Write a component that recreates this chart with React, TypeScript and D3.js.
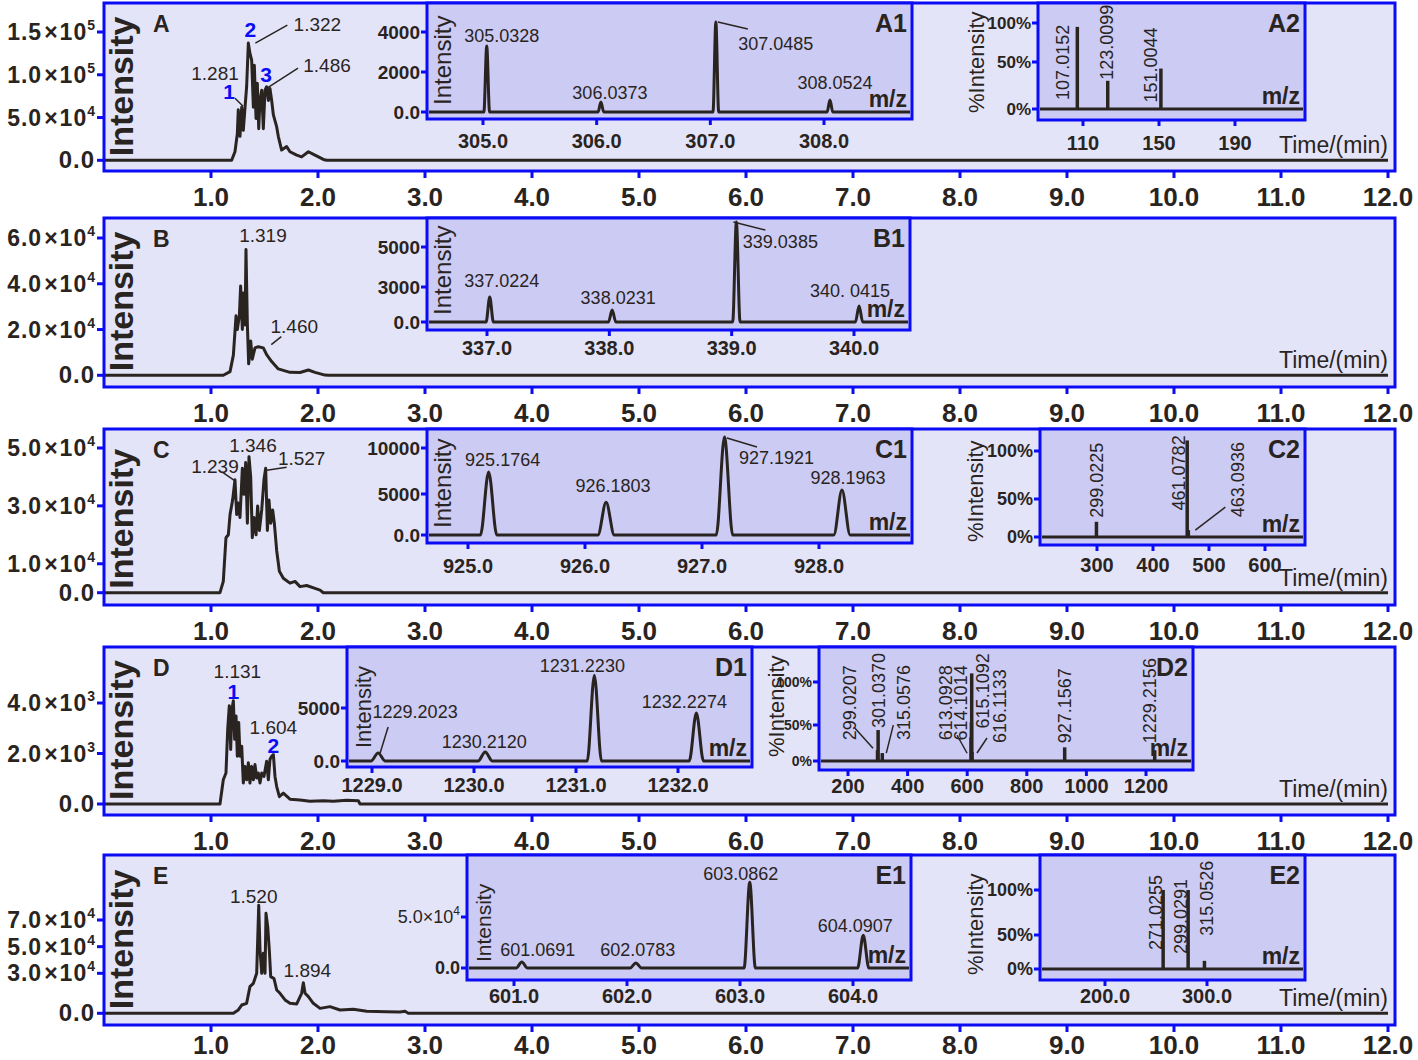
import React from "react";
import * as d3 from "d3";

type Pt = [number, number];

const INK = "#2a2421";
const BLUE = "#0b0bf5";
const PANEL_FILL = "#e4e4f9";
const INSET_FILL = "#cbcbf4";
const SANS = "'Liberation Sans', Arial, 'DejaVu Sans', sans-serif";

// ---------- main chromatograms (time in min, intensity) ----------
const timeTicks = [1, 2, 3, 4, 5, 6, 7, 8, 9, 10, 11, 12];

const traceA: Pt[] = [
  [0, 0], [1.193, 0], [1.224, 10000], [1.246, 31000], [1.255, 59000], [1.271, 28000], [1.287, 62000],
  [1.302, 35000], [1.318, 62000], [1.333, 86000], [1.349, 137000], [1.364, 125000], [1.38, 117000],
  [1.396, 62000], [1.405, 111000], [1.421, 49000], [1.433, 90000], [1.446, 37000], [1.458, 70000],
  [1.474, 82000], [1.489, 37000], [1.505, 82000], [1.52, 86000], [1.536, 70000], [1.551, 84000],
  [1.567, 70000], [1.583, 53000], [1.614, 39000], [1.629, 28000], [1.66, 12000], [1.707, 16000],
  [1.738, 10000], [1.801, 6000], [1.847, 4000], [1.91, 10000], [1.972, 6000], [2.05, 1000], [2.081, 0], [12, 0],
];
const traceB: Pt[] = [
  [0, 0], [1.115, 0], [1.178, 1600], [1.209, 8800], [1.234, 26000], [1.246, 20000], [1.265, 26000],
  [1.277, 39000], [1.293, 20000], [1.302, 36000], [1.318, 22000], [1.327, 55000], [1.34, 22000],
  [1.352, 5000], [1.371, 15000], [1.386, 7000], [1.411, 12000], [1.442, 12500], [1.489, 12000],
  [1.52, 9000], [1.567, 6000], [1.629, 2800], [1.738, 1300], [1.832, 1200], [1.91, 2300], [1.972, 1300],
  [2.065, 100], [2.097, 0], [12, 0],
];
const traceC: Pt[] = [
  [0, 0], [1.084, 0], [1.115, 3900], [1.14, 19000], [1.162, 20000], [1.178, 27000], [1.202, 32000],
  [1.224, 39000], [1.24, 27000], [1.255, 31000], [1.271, 26000], [1.293, 43000], [1.308, 34000],
  [1.324, 45000], [1.34, 24000], [1.355, 47000], [1.371, 40000], [1.386, 19000], [1.402, 26000],
  [1.421, 20000], [1.436, 30000], [1.452, 21500], [1.474, 28600], [1.495, 39000], [1.511, 43000],
  [1.527, 21500], [1.542, 32000], [1.558, 24000], [1.576, 28600], [1.592, 24000], [1.614, 14500],
  [1.639, 7400], [1.676, 5000], [1.738, 3300], [1.785, 3900], [1.832, 2100], [1.894, 2500], [1.972, 1500],
  [2.019, 900], [2.05, 0], [12, 0],
];
const traceD: Pt[] = [
  [0, 0], [1.084, 0], [1.115, 960], [1.14, 1230], [1.156, 2960], [1.171, 3890], [1.184, 2160],
  [1.196, 3760], [1.209, 4090], [1.221, 2560], [1.234, 3490], [1.246, 1890], [1.259, 3230], [1.271, 1890],
  [1.287, 2290], [1.302, 830], [1.318, 1490], [1.333, 960], [1.349, 1630], [1.364, 830], [1.38, 1490],
  [1.396, 960], [1.411, 1560], [1.427, 1030], [1.442, 1230], [1.458, 830], [1.474, 1230], [1.495, 1090],
  [1.52, 1690], [1.536, 960], [1.551, 1760], [1.567, 1890], [1.583, 1960], [1.598, 1090], [1.614, 690],
  [1.639, 290], [1.676, 430], [1.738, 190], [1.832, 160], [1.925, 110], [2.05, 130], [2.143, 110],
  [2.268, 150], [2.377, 130], [2.393, 0], [12, 0],
];
const traceE: Pt[] = [
  [0, 0], [1.209, 0], [1.255, 2500], [1.287, 6200], [1.333, 7500], [1.364, 20000], [1.396, 22500],
  [1.427, 30000], [1.446, 81000], [1.458, 47500], [1.474, 30000], [1.489, 45000], [1.505, 30000],
  [1.514, 75000], [1.53, 65000], [1.545, 47500], [1.558, 27500], [1.589, 26000], [1.614, 17500],
  [1.645, 15000], [1.692, 10000], [1.738, 7500], [1.801, 7000], [1.847, 15000], [1.863, 23000],
  [1.879, 15000], [1.91, 12500], [1.956, 7500], [2.019, 3700], [2.112, 5000], [2.206, 2500], [2.33, 3000],
  [2.455, 1500], [2.642, 1200], [2.766, 1000], [2.813, 1500], [2.844, 0], [12, 0],
];

const yTicksA = [0, 50000, 100000, 150000];
const yTicksB = [0, 20000, 40000, 60000];
const yTicksC = [0, 10000, 30000, 50000];
const yTicksD = [0, 2000, 4000];
const yTicksE = [0, 30000, 50000, 70000];

// ---------- inset spectra ----------
const a1Mz = [305.0328, 306.0373, 307.0485, 308.0524];
const a1Int = [3300, 500, 4500, 600];
const a1Text = ["305.0328", "306.0373", "307.0485", "308.0524"];
const a1XTicks = [305, 306, 307, 308];
const a1YTicks = [0, 2000, 4000];
const a1YText = ["0.0", "2000", "4000"];

const b1Mz = [337.0224, 338.0231, 339.0385, 340.0415];
const b1Int = [2140, 1030, 6250, 1370];
const b1Text = ["337.0224", "338.0231", "339.0385", "340. 0415"];
const b1XTicks = [337, 338, 339, 340];
const b1YTicks = [0, 3000, 5000];
const b1YText = ["0.0", "3000", "5000"];

const c1Mz = [925.1764, 926.1803, 927.1921, 928.1963];
const c1Int = [7400, 4000, 11200, 5430];
const c1Text = ["925.1764", "926.1803", "927.1921", "928.1963"];
const c1XTicks = [925, 926, 927, 928];
const c1YTicks = [0, 5000, 10000];
const c1YText = ["0.0", "5000", "10000"];

const d1Mz = [1229.06, 1230.11, 1231.18, 1232.18];
const d1Int = [750, 850, 8100, 4530];
const d1Text = ["1229.2023", "1230.2120", "1231.2230", "1232.2274"];
const d1XTicks = [1229, 1230, 1231, 1232];
const d1YTicks = [0, 5000];
const d1YText = ["0.0", "5000"];

const e1Mz = [601.0691, 602.0783, 603.0862, 604.0907];
const e1Int = [6000, 5000, 84000, 32000];
const e1Text = ["601.0691", "602.0783", "603.0862", "604.0907"];
const e1XTicks = [601, 602, 603, 604];
const e1YTicks = [0, 50000];
const e1YText = ["0.0", "5.0×10^4"];

const pctTicks = [0, 50, 100];
const pctText = ["0%", "50%", "100%"];

const a2Mz = [107.0152, 123.0099, 151.0044];
const a2Int = [95, 30, 43];
const a2Text = ["107.0152", "123.0099", "151.0044"];
const a2XTicks = [110, 150, 190];

const c2Mz = [299.0225, 461.0782, 463.0936];
const c2Int = [20, 111, 9];
const c2Text = ["299.0225", "461.0782", "463.0936"];
const c2XTicks = [300, 400, 500, 600];

const d2Mz = [299.0207, 301.037, 315.0576, 613.0928, 614.1014, 615.1092, 616.1133, 927.1567, 1229.2156];
const d2Int = [15, 43, 11, 33, 53, 110, 12.5, 19, 15];
const d2Text = ["299.0207", "301.0370", "315.0576", "613.0928", "614.1014", "615.1092", "616.1133", "927.1567", "1229.2156"];
const d2XTicks = [200, 400, 600, 800, 1000, 1200];

// stick positions as they sit on the drawn E2 axis
const e2Mz = [257, 281.5, 297.5];
const e2Int = [100, 100, 12];
const e2Text = ["271.0255", "299.0291", "315.0526"];
const e2XTicks = [200, 300];

// ---------- layout ----------
type Ann = { at: Pt; text: string; dx: number; dy: number; blue?: boolean; leader?: number[] };
type Main = { id: string; top: number; bottom: number; base: number; yTop: number; yMax: number; yTicks: number[]; trace: Pt[]; ann: Ann[] };

const mains: Main[] = [
  {
    id: "A", top: 3, bottom: 171, base: 160.3, yTop: 32, yMax: 150000, yTicks: yTicksA, trace: traceA,
    ann: [
      { at: [1.318, 62000], text: "1.281", dx: -30, dy: -27 },
      { at: [1.318, 62000], text: "1", dx: -16, dy: -8, blue: true, leader: [-10, -9, -2, -1] },
      { at: [1.349, 137000], text: "1.322", dx: 69, dy: -12 },
      { at: [1.349, 137000], text: "2", dx: 2, dy: -6, blue: true, leader: [7, 0, 39, -18] },
      { at: [1.505, 82000], text: "1.486", dx: 62, dy: -18 },
      { at: [1.505, 82000], text: "3", dx: 1, dy: -8, blue: true, leader: [2, -2, 33, -22] },
    ],
  },
  {
    id: "B", top: 218, bottom: 387, base: 375.3, yTop: 238, yMax: 60000, yTicks: yTicksB, trace: traceB,
    ann: [
      { at: [1.327, 55000], text: "1.319", dx: 17, dy: -7 },
      { at: [1.442, 12500], text: "1.460", dx: 36, dy: -14, leader: [13, -2, 23, -10] },
    ],
  },
  {
    id: "C", top: 429, bottom: 605, base: 592.7, yTop: 448, yMax: 50000, yTicks: yTicksC, trace: traceC,
    ann: [
      { at: [1.224, 39000], text: "1.239", dx: -20, dy: -7, leader: [-13, -8, 0, 1] },
      { at: [1.355, 47000], text: "1.346", dx: 4, dy: -5 },
      { at: [1.511, 43000], text: "1.527", dx: 36, dy: -3, leader: [1, 2, 21, -1] },
    ],
  },
  {
    id: "D", top: 647, bottom: 815, base: 804, yTop: 703, yMax: 4000, yTicks: yTicksD, trace: traceD,
    ann: [
      { at: [1.209, 4090], text: "1.131", dx: 4, dy: -23 },
      { at: [1.209, 4090], text: "1", dx: 0, dy: -2, blue: true },
      { at: [1.583, 1960], text: "1.604", dx: 0, dy: -21 },
      { at: [1.583, 1960], text: "2", dx: 0, dy: -2, blue: true },
    ],
  },
  {
    id: "E", top: 855, bottom: 1025, base: 1013.3, yTop: 920, yMax: 70000, yTicks: yTicksE, trace: traceE,
    ann: [
      { at: [1.446, 81000], text: "1.520", dx: -5, dy: -2 },
      { at: [1.863, 23000], text: "1.894", dx: 4, dy: -6 },
    ],
  },
];

type Lab = { dx: number; dy: number; leader?: number[] };
type Inset = {
  name: string; box: number[]; xd: number[]; xr: number[]; yd: number[]; yr: number[];
  xTicks: number[]; xFmt: (v: number) => string; xLabelY: number;
  yTicks: number[]; yText: string[]; yTickSize: number;
  yLabel: string; yLabelX: number; yLabelY: number; yLabelSize: number;
  kind: "profile" | "stick"; hw?: number; mz: number[]; inten: number[]; text: string[]; lab: Lab[];
};

const f1 = (v: number) => v.toFixed(1);
const f0 = (v: number) => String(v);

const insets: Inset[] = [
  {
    name: "A1", box: [427, 3, 912, 119], xd: [305, 308], xr: [483, 824], yd: [0, 4000], yr: [112, 32],
    xTicks: a1XTicks, xFmt: f1, xLabelY: 148, yTicks: a1YTicks, yText: a1YText, yTickSize: 19,
    yLabel: "Intensity", yLabelX: 451, yLabelY: 105, yLabelSize: 24,
    kind: "profile", hw: 0.025, mz: a1Mz, inten: a1Int, text: a1Text,
    lab: [{ dx: 15, dy: -4 }, { dx: 9, dy: -3 }, { dx: 60, dy: 28, leader: [2, 0, 32, 7] }, { dx: 5, dy: -11 }],
  },
  {
    name: "B1", box: [427, 218, 910, 330], xd: [337, 340], xr: [487, 854], yd: [0, 3000, 5000], yr: [322, 287, 247],
    xTicks: b1XTicks, xFmt: f1, xLabelY: 355, yTicks: b1YTicks, yText: b1YText, yTickSize: 19,
    yLabel: "Intensity", yLabelX: 451, yLabelY: 315, yLabelSize: 24,
    kind: "profile", hw: 0.03, mz: b1Mz, inten: b1Int, text: b1Text,
    lab: [{ dx: 12, dy: -10 }, { dx: 6, dy: -6 }, { dx: 44, dy: 26, leader: [-3, 0, 29, 8] }, { dx: -9, dy: -9 }],
  },
  {
    name: "C1", box: [427, 429, 912, 543], xd: [925, 928], xr: [468, 819], yd: [0, 5000, 10000], yr: [535, 494, 448],
    xTicks: c1XTicks, xFmt: f1, xLabelY: 573, yTicks: c1YTicks, yText: c1YText, yTickSize: 19,
    yLabel: "Intensity", yLabelX: 451, yLabelY: 528, yLabelSize: 24,
    kind: "profile", hw: 0.07, mz: c1Mz, inten: c1Int, text: c1Text,
    lab: [{ dx: 14, dy: -6 }, { dx: 7, dy: -10 }, { dx: 52, dy: 27, leader: [2.5, 1, 32.5, 10] }, { dx: 6, dy: -6 }],
  },
  {
    name: "D1", box: [347, 647, 752, 767], xd: [1229, 1232], xr: [372, 678], yd: [0, 5000], yr: [761, 708],
    xTicks: d1XTicks, xFmt: f1, xLabelY: 792, yTicks: d1YTicks, yText: d1YText, yTickSize: 19,
    yLabel: "Intensity", yLabelX: 371, yLabelY: 748, yLabelSize: 22,
    kind: "profile", hw: 0.07, mz: d1Mz, inten: d1Int, text: d1Text,
    lab: [{ dx: 37, dy: -35, leader: [10, -26, 2, 0] }, { dx: -1, dy: -4 }, { dx: -12, dy: -3 }, { dx: -12, dy: -5 }],
  },
  {
    name: "E1", box: [467, 855, 911, 980], xd: [601, 604], xr: [514, 853], yd: [0, 50000], yr: [968, 917],
    xTicks: e1XTicks, xFmt: f1, xLabelY: 1003, yTicks: e1YTicks, yText: e1YText, yTickSize: 18,
    yLabel: "Intensity", yLabelX: 491, yLabelY: 962, yLabelSize: 21,
    kind: "profile", hw: 0.05, mz: e1Mz, inten: e1Int, text: e1Text,
    lab: [{ dx: 16, dy: -6 }, { dx: 2, dy: -7 }, { dx: -9, dy: -2 }, { dx: -8, dy: -3 }],
  },
  {
    name: "A2", box: [1038, 3, 1305, 120], xd: [110, 190], xr: [1083, 1235], yd: [0, 50, 100], yr: [109, 62, 23],
    xTicks: a2XTicks, xFmt: f0, xLabelY: 150, yTicks: pctTicks, yText: pctText, yTickSize: 17,
    yLabel: "%Intensity", yLabelX: 984, yLabelY: 113, yLabelSize: 22,
    kind: "stick", mz: a2Mz, inten: a2Int, text: a2Text,
    lab: [{ dx: -15, dy: 73 }, { dx: -1, dy: -1 }, { dx: -10, dy: 34 }],
  },
  {
    name: "C2", box: [1040, 429, 1305, 545], xd: [300, 600], xr: [1097, 1265], yd: [0, 50, 100], yr: [537, 499, 451],
    xTicks: c2XTicks, xFmt: f0, xLabelY: 572, yTicks: pctTicks, yText: pctText, yTickSize: 18,
    yLabel: "%Intensity", yLabelX: 983, yLabelY: 542, yLabelSize: 22,
    kind: "stick", mz: c2Mz, inten: c2Int, text: c2Text,
    lab: [{ dx: 0, dy: -4 }, { dx: -9, dy: 70 }, { dx: 49, dy: -13, leader: [7, 0, 37, -23] }],
  },
  {
    name: "D2", box: [819, 647, 1193, 770], xd: [200, 1200], xr: [848, 1146], yd: [0, 50, 100], yr: [761, 725, 682],
    xTicks: d2XTicks, xFmt: f0, xLabelY: 793, yTicks: pctTicks, yText: pctText, yTickSize: 14,
    yLabel: "%Intensity", yLabelX: 784, yLabelY: 757, yLabelSize: 22,
    kind: "stick", mz: d2Mz, inten: d2Int, text: d2Text,
    lab: [
      { dx: -28.5, dy: -10, leader: [-22.5, -22, -4.5, -2] }, { dx: 0, dy: -2 },
      { dx: 21, dy: -13, leader: [11, -28, 4, 0] }, { dx: -26, dy: 3, leader: [-14, -2, -4, 16] },
      { dx: -11, dy: 18 }, { dx: 11, dy: 55 }, { dx: 27, dy: -9, leader: [15, -14, 5, 1] },
      { dx: 0, dy: -4 }, { dx: -5, dy: -7 },
    ],
  },
  {
    name: "E2", box: [1040, 855, 1305, 980], xd: [200, 300], xr: [1105, 1207], yd: [0, 50, 100], yr: [969, 935, 890],
    xTicks: e2XTicks, xFmt: f1, xLabelY: 1003, yTicks: pctTicks, yText: pctText, yTickSize: 18,
    yLabel: "%Intensity", yLabelX: 983, yLabelY: 975, yLabelSize: 22,
    kind: "stick", mz: e2Mz, inten: e2Int, text: e2Text,
    lab: [{ dx: -8, dy: 60 }, { dx: -8, dy: 64 }, { dx: 2, dy: -25 }],
  },
];

const xTime = d3.scaleLinear().domain([0, 12]).range([104, 1388]);

function Sci({ x, y, v }: { x: number; y: number; v: number }) {
  if (v === 0) {
    return <text x={x} y={y} textAnchor="end" fontSize={24} fontWeight="bold" fontFamily={SANS} letterSpacing={1} fill={INK}>0.0</text>;
  }
  const e = Math.floor(Math.log10(v));
  const m = (v / Math.pow(10, e)).toFixed(1);
  return (
    <text x={x} y={y} textAnchor="end" fontSize={23} fontWeight="bold" fontFamily={SANS} fill={INK}>
      <tspan letterSpacing={1}>{m}</tspan>
      <tspan dx={2}>×</tspan>
      <tspan dx={2} letterSpacing={1}>10</tspan>
      <tspan dy={-10} fontSize={14}>{e}</tspan>
    </text>
  );
}

function MainPanel({ p }: { p: Main }) {
  const y = d3.scaleLinear().domain([0, p.yMax]).range([p.base, p.yTop]);
  const line = d3.line<Pt>().x((d) => xTime(d[0])).y((d) => y(d[1]));
  const labelY = Math.min(p.bottom + 35, 1054);
  return (
    <g>
      <rect x={104} y={p.top} width={1291} height={p.bottom - p.top} fill={PANEL_FILL} />
      <path d={line(p.trace) || ""} fill="none" stroke={INK} strokeWidth={3} strokeLinejoin="round" />
      <rect x={104} y={p.top} width={1291} height={p.bottom - p.top} fill="none" stroke={BLUE} strokeWidth={3} />
      {p.yTicks.map((v) => (
        <g key={v}>
          <line x1={97} x2={104} y1={y(v)} y2={y(v)} stroke={BLUE} strokeWidth={3} />
          <Sci x={95} y={y(v) + 8} v={v} />
        </g>
      ))}
      {timeTicks.map((t) => (
        <g key={t}>
          <line x1={xTime(t)} x2={xTime(t)} y1={p.bottom} y2={p.bottom + 7} stroke={BLUE} strokeWidth={3} />
          <text x={xTime(t)} y={labelY} textAnchor="middle" fontSize={26} fontWeight="bold"
            fontFamily={SANS} fill={INK}>{t.toFixed(1)}</text>
        </g>
      ))}
      <text transform={`translate(133,${p.base - 4}) rotate(-90)`} fontSize={34} fontWeight="bold"
        fontFamily={SANS} fill={INK}>Intensity</text>
      <text x={153} y={p.top + 29} fontSize={23} fontWeight="bold" fontFamily={SANS} fill={INK}>{p.id}</text>
      <text x={1388} y={p.base - 7} textAnchor="end" fontSize={23} fontFamily={SANS} fill={INK}>Time/(min)</text>
      {p.ann.map((a, i) => {
        const px = xTime(a.at[0]);
        const py = y(a.at[1]);
        return (
          <g key={i}>
            {a.leader && (
              <line x1={px + a.leader[0]} y1={py + a.leader[1]} x2={px + a.leader[2]} y2={py + a.leader[3]}
                stroke={INK} strokeWidth={1.5} />
            )}
            <text x={px + a.dx} y={py + a.dy} textAnchor="middle" fontSize={a.blue ? 21 : 19}
              fontWeight={a.blue ? "bold" : "normal"} fontFamily={SANS}
              fill={a.blue ? BLUE : INK}>{a.text}</text>
          </g>
        );
      })}
    </g>
  );
}

function InsetPanel({ s }: { s: Inset }) {
  const [x0, y0, x1, y1] = s.box;
  const x = d3.scaleLinear().domain(s.xd).range(s.xr);
  const y = d3.scaleLinear().domain(s.yd).range(s.yr);
  const base = y(0);
  let profile = "";
  if (s.kind === "profile") {
    const hw = s.hw || 0.03;
    const pts: Pt[] = [[x.invert(x0 + 2), 0]];
    s.mz.forEach((m, i) => {
      pts.push([m - hw, 0], [m, s.inten[i]], [m + hw, 0]);
    });
    pts.push([x.invert(x1 - 2), 0]);
    profile = d3.line<Pt>().x((d) => x(d[0])).y((d) => y(d[1])).curve(d3.curveMonotoneX)(pts) || "";
  }
  return (
    <g>
      <rect x={x0} y={y0} width={x1 - x0} height={y1 - y0} fill={INSET_FILL} />
      {s.kind === "profile" ? (
        <path d={profile} fill="none" stroke={INK} strokeWidth={3} strokeLinejoin="round" />
      ) : (
        <g>
          <line x1={x0 + 2} x2={x1 - 2} y1={base} y2={base} stroke={INK} strokeWidth={3} />
          {s.mz.map((m, i) => (
            <line key={i} x1={x(m)} x2={x(m)} y1={base} y2={y(s.inten[i])} stroke={INK} strokeWidth={3.5} />
          ))}
        </g>
      )}
      <rect x={x0} y={y0} width={x1 - x0} height={y1 - y0} fill="none" stroke={BLUE} strokeWidth={3} />
      {s.yTicks.map((v, i) => {
        const t = s.yText[i];
        const parts = t.split("^");
        return (
          <g key={v}>
            <line x1={x0 - 6} x2={x0} y1={y(v)} y2={y(v)} stroke={BLUE} strokeWidth={3} />
            <text x={x0 - 7} y={y(v) + s.yTickSize * 0.36} textAnchor="end" fontSize={s.yTickSize}
              fontWeight={parts.length > 1 ? "normal" : "bold"} fontFamily={SANS} fill={INK}>
              <tspan>{parts[0]}</tspan>
              {parts.length > 1 && <tspan dy={-8} fontSize={12}>{parts[1]}</tspan>}
            </text>
          </g>
        );
      })}
      {s.xTicks.map((v) => (
        <g key={v}>
          <line x1={x(v)} x2={x(v)} y1={y1} y2={y1 + 6} stroke={BLUE} strokeWidth={3} />
          <text x={x(v)} y={s.xLabelY} textAnchor="middle" fontSize={20} fontWeight="bold" fontFamily={SANS}
            fill={INK}>{s.xFmt(v)}</text>
        </g>
      ))}
      <text transform={`translate(${s.yLabelX},${s.yLabelY}) rotate(-90)`} fontSize={s.yLabelSize}
        fontFamily={SANS} fill={INK}>{s.yLabel}</text>
      <text x={x1 - 5} y={y0 + 29} textAnchor="end" fontSize={25} fontWeight="bold" fontFamily={SANS} fill={INK}>{s.name}</text>
      <text x={x1 - 5} y={base - 5} textAnchor="end" fontSize={23} fontWeight="bold" fontFamily={SANS} fill={INK}>m/z</text>
      {s.mz.map((m, i) => {
        const px = x(m);
        const py = y(s.inten[i]);
        const l = s.lab[i];
        return (
          <g key={i}>
            {l.leader && (
              <line x1={px + l.leader[0]} y1={py + l.leader[1]} x2={px + l.leader[2]} y2={py + l.leader[3]}
                stroke={INK} strokeWidth={1.5} />
            )}
            {s.kind === "profile" ? (
              <text x={px + l.dx} y={py + l.dy} textAnchor="middle" fontSize={18}
                fontFamily={SANS} fill={INK}>{s.text[i]}</text>
            ) : (
              <text transform={`translate(${px + l.dx + 6.5},${py + l.dy}) rotate(-90)`} fontSize={18}
                fontFamily={SANS} fill={INK}>{s.text[i]}</text>
            )}
          </g>
        );
      })}
    </g>
  );
}

export default function App() {
  return (
    <svg width={1418} height={1060} style={{ position: "absolute", left: 0, top: 0, background: "#ffffff" }}>
      {mains.map((p) => (
        <MainPanel key={p.id} p={p} />
      ))}
      {insets.map((s) => (
        <InsetPanel key={s.name} s={s} />
      ))}
    </svg>
  );
}
